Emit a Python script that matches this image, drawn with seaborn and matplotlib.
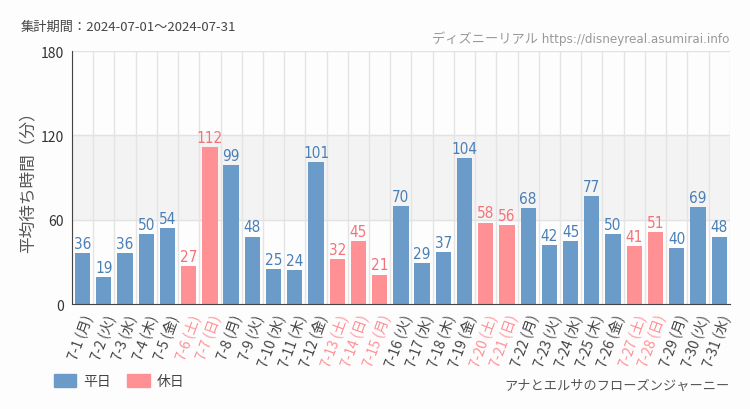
import numpy as np
import pandas as pd
import matplotlib
matplotlib.use("Agg")
import matplotlib.pyplot as plt
import seaborn as sns
from matplotlib.patches import Patch

days = ["7-1 (月)", "7-2 (火)", "7-3 (水)", "7-4 (木)", "7-5 (金)", "7-6 (土)", "7-7 (日)",
        "7-8 (月)", "7-9 (火)", "7-10 (水)", "7-11 (木)", "7-12 (金)", "7-13 (土)", "7-14 (日)",
        "7-15 (月)", "7-16 (火)", "7-17 (水)", "7-18 (木)", "7-19 (金)", "7-20 (土)", "7-21 (日)",
        "7-22 (月)", "7-23 (火)", "7-24 (水)", "7-25 (木)", "7-26 (金)", "7-27 (土)", "7-28 (日)",
        "7-29 (月)", "7-30 (火)", "7-31 (水)"]
wait = [36, 19, 36, 50, 54, 27, 112, 99, 48, 25, 24, 101, 32, 45, 21, 70, 29, 37, 104, 58, 56,
        68, 42, 45, 77, 50, 41, 51, 40, 69, 48]
holidays = ["7-6 (土)", "7-7 (日)", "7-13 (土)", "7-14 (日)", "7-15 (月)", "7-20 (土)",
            "7-21 (日)", "7-27 (土)", "7-28 (日)"]
yticks = [0, 60, 120, 180]

BLUE = "#6b9bc8"
PINK = "#ff9195"
BLUE_TXT = "#4a7fb5"
PINK_TXT = "#f47378"

sns.set_style("white")
plt.rcParams["font.family"] = ["Noto Sans CJK JP", "DejaVu Sans"]
NARROW = ["DejaVu Sans", "Noto Sans CJK JP"]

df = pd.DataFrame({"day": days, "wait": wait})
df["kind"] = np.where(df["day"].isin(holidays), "休日", "平日")

fig = plt.figure(figsize=(7.5, 4.1), dpi=100, facecolor="#fdfdfd")
ax = fig.add_axes([0.096, 0.256, 0.877, 0.617])
ax.set_facecolor("#fdfdfd")

ax.axhspan(60, 120, color="#f3f3f3", zorder=0)
for y in yticks[1:]:
    ax.axhline(y, color="#e2e2e2", lw=1, zorder=0.5)
for i in range(len(days) + 1):
    ax.axvline(i - 0.5, color="#e4e4e4", lw=1, zorder=0.5)

sns.barplot(data=df, x="day", y="wait", hue="kind", palette={"平日": BLUE, "休日": PINK},
            dodge=False, width=0.72, legend=False, ax=ax, zorder=2, saturation=1, linewidth=0)

for c in ax.containers:
    for bar in c:
        h = bar.get_height()
        if np.isnan(h):
            continue
        x = bar.get_x() + bar.get_width() / 2
        col = PINK_TXT if bar.get_facecolor()[0] > 0.9 else BLUE_TXT
        ax.text(x, h + 1.5, f"{int(h)}", ha="center", va="bottom", fontsize=11,
                color=col, family=NARROW, fontstretch="condensed")

ax.set_xlim(-0.5, len(days) - 0.5)
ax.set_ylim(0, 180)
ax.set_yticks(yticks)
ax.set_yticklabels([str(t) for t in yticks], fontsize=10, color="#333333")
ax.set_xlabel("")
ax.set_ylabel("平均待ち時間（分）", fontsize=12, color="#555555", labelpad=3)
ax.tick_params(axis="both", direction="out", length=4, width=1, color="#333333", pad=2)

ax.set_xticks(range(len(days)))
ax.set_xticklabels(days, rotation=70, ha="right", rotation_mode="anchor", fontsize=10)
for lab in ax.get_xticklabels():
    lab.set_color(PINK if lab.get_text() in holidays else "#444444")

for s in ["top", "right"]:
    ax.spines[s].set_visible(False)
ax.spines["left"].set_color("#444444")
ax.spines["bottom"].set_color("#444444")

fig.text(0.027, 0.925, "集計期間：2024-07-01～2024-07-31", fontsize=9.5, color="#444444")
fig.text(0.973, 0.895, "ディズニーリアル https://disneyreal.asumirai.info", fontsize=9.5,
         color="#999999", ha="right", family=NARROW, fontstretch="condensed")
fig.text(0.973, 0.05, "アナとエルサのフローズンジャーニー", fontsize=9.5, color="#555555",
         ha="right", family=NARROW, fontstretch="condensed")

handles = [Patch(color=BLUE, label="平日"), Patch(color=PINK, label="休日")]
fig.legend(handles=handles, loc="lower left", bbox_to_anchor=(0.055, 0.02), ncol=2,
           frameon=False, fontsize=10, handlelength=1.6, handleheight=1.0, columnspacing=1.2,
           handletextpad=0.5, labelcolor="#444444")

fig.savefig("out.png", dpi=100, facecolor=fig.get_facecolor())
